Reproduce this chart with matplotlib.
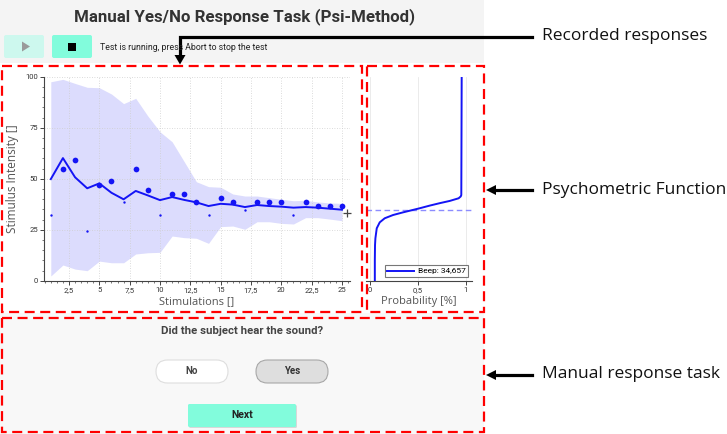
import matplotlib
matplotlib.use("Agg")
import matplotlib.pyplot as plt
from matplotlib.patches import Rectangle, FancyBboxPatch, Polygon
from matplotlib.ticker import MultipleLocator, FixedLocator

plt.rcParams['font.family'] = ['Roboto', 'DejaVu Sans']

W, H = 727, 434

# ---------------- data ----------------
stimulations = list(range(1, 26))
mean_estimate = [49.8, 60.1, 50.7, 45.3, 47.7, 43.1, 39.9, 44.0, 41.8, 39.5,
                 41.0, 39.6, 38.4, 36.6, 37.7, 37.3, 36.1, 37.1, 36.6, 36.3,
                 35.8, 36.1, 35.8, 35.3, 34.8]
band_upper = [97.5, 98.7, 96.7, 94.8, 94.6, 91.5, 86.8, 89.4, 80.7, 73.0,
              68.1, 58.3, 48.5, 46.1, 45.8, 42.5, 41.5, 41.5, 40.7, 39.9,
              39.2, 39.4, 38.6, 38.1, 37.9]
band_lower = [2.3, 7.7, 5.7, 4.9, 9.6, 8.8, 8.8, 13.1, 13.7, 13.9,
              21.9, 21.1, 20.8, 18.3, 26.5, 26.8, 25.2, 28.9, 28.9, 28.1,
              27.8, 30.9, 30.9, 30.2, 29.4]
presented_intensity = [32.4, 54.9, 59.0, 24.2, 46.7, 48.9, 38.7, 54.9, 44.6, 32.4,
                       42.6, 42.6, 38.6, 32.4, 40.7, 38.6, 34.5, 38.6, 38.6, 38.6,
                       32.4, 38.6, 36.6, 36.6, 36.6]
heard = [0, 1, 1, 0, 1, 1, 0, 1, 1, 0,
         1, 1, 1, 0, 1, 1, 0, 1, 1, 1,
         0, 1, 1, 1, 1]
next_stim_x = 25.45
next_stim_y = 33.0

x_ticks = [2.5, 5, 7.5, 10, 12.5, 15, 17.5, 20, 22.5, 25]
x_tick_labels = ["2,5", "5", "7,5", "10", "12,5", "15", "17,5", "20", "22,5", "25"]
y_ticks = [0, 25, 50, 75, 100]

psych_intensity = [0, 10, 17.5, 20.8, 25.7, 28.6, 30.6, 32.2, 33.5, 34.7,
                   35.5, 36.8, 38.0, 39.1, 40.4, 41.3, 42.0, 100]
psych_prob = [0.05, 0.05, 0.052, 0.056, 0.07, 0.101, 0.153, 0.24, 0.344, 0.448,
              0.517, 0.621, 0.726, 0.83, 0.923, 0.945, 0.951, 0.955]
threshold = 34.657
threshold_label = "Beep: 34,657"
p_ticks = [0, 0.5, 1]
p_tick_labels = ["0", "0,5", "1"]

BLUE = '#1414f5'

fig = plt.figure(figsize=(W / 100, H / 100), dpi=100, facecolor='white')

# ---------------- background UI ----------------
bg = fig.add_axes([0, 0, 1, 1], zorder=0)
bg.set_xlim(0, W); bg.set_ylim(H, 0); bg.axis('off')
bg.add_patch(Rectangle((0, 0), 484, 63, fc='#f4f4f4', ec='none'))
bg.add_patch(Rectangle((0, 313), 484, 121, fc='#f8f8f8', ec='none'))

# ---------------- main chart ----------------
ax = fig.add_axes([44 / W, 1 - 280.7 / H, (350 - 44) / W, (280.7 - 76.7) / H], zorder=2)
ax.set_facecolor('none')
ax.set_xlim(0.44, 25.66)
ax.set_ylim(0, 100)
ax.fill_between(stimulations, band_lower, band_upper, color='#dcdcfd', lw=0, zorder=1)
ax.plot(stimulations, mean_estimate, color=BLUE, lw=1.4, zorder=3)
xs_yes = [s for s, h in zip(stimulations, heard) if h]
ys_yes = [v for v, h in zip(presented_intensity, heard) if h]
xs_no = [s for s, h in zip(stimulations, heard) if not h]
ys_no = [v for v, h in zip(presented_intensity, heard) if not h]
ax.scatter(xs_yes, ys_yes, s=17, color=BLUE, lw=0, zorder=4)
ax.scatter(xs_no, ys_no, s=3, color=BLUE, lw=0, zorder=4)
ax.plot([next_stim_x], [next_stim_y], marker='+', ms=6, mew=0.9, color='#444444',
        clip_on=False, zorder=5)
ax.xaxis.set_major_locator(FixedLocator(x_ticks))
ax.set_xticklabels(x_tick_labels)
ax.xaxis.set_minor_locator(MultipleLocator(0.5))
ax.yaxis.set_major_locator(FixedLocator(y_ticks))
ax.yaxis.set_minor_locator(MultipleLocator(5))
ax.grid(True, which='major', ls=(0, (1, 2)), lw=0.6, color='#cfcfcf', zorder=0)
for s in ['top', 'right']:
    ax.spines[s].set_visible(False)
for s in ['left', 'bottom']:
    ax.spines[s].set_color('#444444')
    ax.spines[s].set_linewidth(0.8)
ax.tick_params(which='major', length=3, width=0.7, color='#444444',
               labelsize=5.5, labelcolor='#333333', pad=1.5)
ax.tick_params(which='minor', length=1.5, width=0.5, color='#444444')
ax.set_xlabel("Stimulations []", fontsize=8, color='#555555', labelpad=2,
              family=['Open Sans', 'DejaVu Sans'])
ax.set_ylabel("Stimulus Intensity []", fontsize=8.5, color='#555555', labelpad=4,
              family=['Open Sans', 'DejaVu Sans'])

# ---------------- psychometric function ----------------
ap = fig.add_axes([366 / W, 1 - 280.7 / H, 106 / W, (280.7 - 76.7) / H], zorder=2)
ap.set_facecolor('none')
ap.set_xlim(-0.042, 1.0625)
ap.set_ylim(0, 100)
ap.plot(psych_prob, psych_intensity, color=BLUE, lw=1.4, label=threshold_label, zorder=3)
ap.axhline(threshold, color='#8c8cff', lw=1.0, ls=(0, (4, 2.5)), zorder=2)
ap.xaxis.set_major_locator(FixedLocator(p_ticks))
ap.set_xticklabels(p_tick_labels)
ap.set_yticks([])
ap.grid(True, axis='x', color='#e8e8e8', lw=0.6, zorder=0)
for s in ['top', 'right', 'left']:
    ap.spines[s].set_visible(False)
ap.spines['bottom'].set_color('#444444')
ap.spines['bottom'].set_linewidth(0.8)
ap.tick_params(length=3, width=0.7, color='#444444', labelsize=5.5,
               labelcolor='#333333', pad=1.5)
ap.set_xlabel("Probability [%]", fontsize=8, color='#555555', labelpad=2,
              family=['Open Sans', 'DejaVu Sans'])
leg = ap.legend(loc='lower center', bbox_to_anchor=(0.57, 0.01), fontsize=6,
                frameon=True, fancybox=False, handlelength=3.2, borderpad=0.3,
                handletextpad=0.5, borderaxespad=0.2)
leg.get_frame().set_edgecolor('#555555')
leg.get_frame().set_linewidth(0.8)

# ---------------- foreground UI ----------------
fg = fig.add_axes([0, 0, 1, 1], zorder=10)
fg.set_facecolor('none')
fg.set_xlim(0, W); fg.set_ylim(H, 0); fg.axis('off')

fg.text(244, 16.5, "Manual Yes/No Response Task (Psi-Method)", ha='center', va='center',
        fontsize=12.2, fontweight='bold', color='#333333')

fg.add_patch(FancyBboxPatch((4, 35), 40, 23, boxstyle='round,pad=0,rounding_size=2',
                            fc='#cdf8ee', ec='none'))
fg.add_patch(Polygon([(22, 41.5), (22, 51.5), (30, 46.5)], closed=True, fc='#9a9a9a', ec='none'))
fg.add_patch(FancyBboxPatch((52, 35), 40, 23, boxstyle='round,pad=0,rounding_size=2',
                            fc='#82fcdc', ec='none'))
fg.add_patch(Rectangle((68, 43), 8, 8, fc='black', ec='none'))
fg.text(100, 47, "Test is running, press Abort to stop the test", ha='left', va='center',
        fontsize=6.3, color='#222222')

fg.text(242.5, 331, "Did the subject hear the sound?", ha='center', va='center',
        fontsize=8.2, fontweight='bold', color='#444444')
fg.add_patch(FancyBboxPatch((156, 360), 72, 23, boxstyle='round,pad=0,rounding_size=11.5',
                            fc='white', ec='#dedede', lw=0.8))
fg.text(192, 371.5, "No", ha='center', va='center', fontsize=7, fontweight='bold', color='#444444')
fg.add_patch(FancyBboxPatch((256, 360), 72, 23, boxstyle='round,pad=0,rounding_size=11.5',
                            fc='#dedede', ec='#a8a8a8', lw=0.8))
fg.text(292, 371.5, "Yes", ha='center', va='center', fontsize=7, fontweight='bold', color='#333333')
fg.add_patch(FancyBboxPatch((189, 405), 108, 23, boxstyle='round,pad=0,rounding_size=1.5',
                            fc='#d8d8d8', ec='none'))
fg.add_patch(FancyBboxPatch((188, 404), 108, 23, boxstyle='round,pad=0,rounding_size=1.5',
                            fc='#82fcdc', ec='none'))
fg.text(242, 415.5, "Next", ha='center', va='center', fontsize=7.5, fontweight='bold', color='#222222')

dash = (0, (4.5, 2.5))
for (x0, y0, x1, y1) in [(1.5, 66, 362, 312), (367, 66, 484, 312), (1.5, 318, 484, 432)]:
    fg.add_patch(Rectangle((x0, y0), x1 - x0, y1 - y0, fill=False, ec='#ff0000',
                           lw=1.6, ls=dash))

# arrows
fg.plot([532, 180, 180], [37, 37, 56], color='black', lw=2.3, solid_joinstyle='miter')
fg.add_patch(Polygon([(174.5, 55), (185.5, 55), (180, 64.5)], closed=True, fc='black', ec='none'))
for yy in [190, 375]:
    fg.plot([495, 532], [yy, yy], color='black', lw=2.3)
    fg.add_patch(Polygon([(496, yy - 5), (496, yy + 5), (486, yy)], closed=True, fc='black', ec='none'))

ann_font = ['Open Sans', 'DejaVu Sans']
fg.text(542.5, 36, "Recorded responses", ha='left', va='center', fontsize=12.5,
        color='#111111', family=ann_font)
fg.text(542.5, 189.5, "Psychometric Function", ha='left', va='center', fontsize=12.5,
        color='#111111', family=ann_font)
fg.text(542.5, 374.5, "Manual response task", ha='left', va='center', fontsize=12.5,
        color='#111111', family=ann_font)

fig.savefig('out.png', dpi=100, facecolor='white')
